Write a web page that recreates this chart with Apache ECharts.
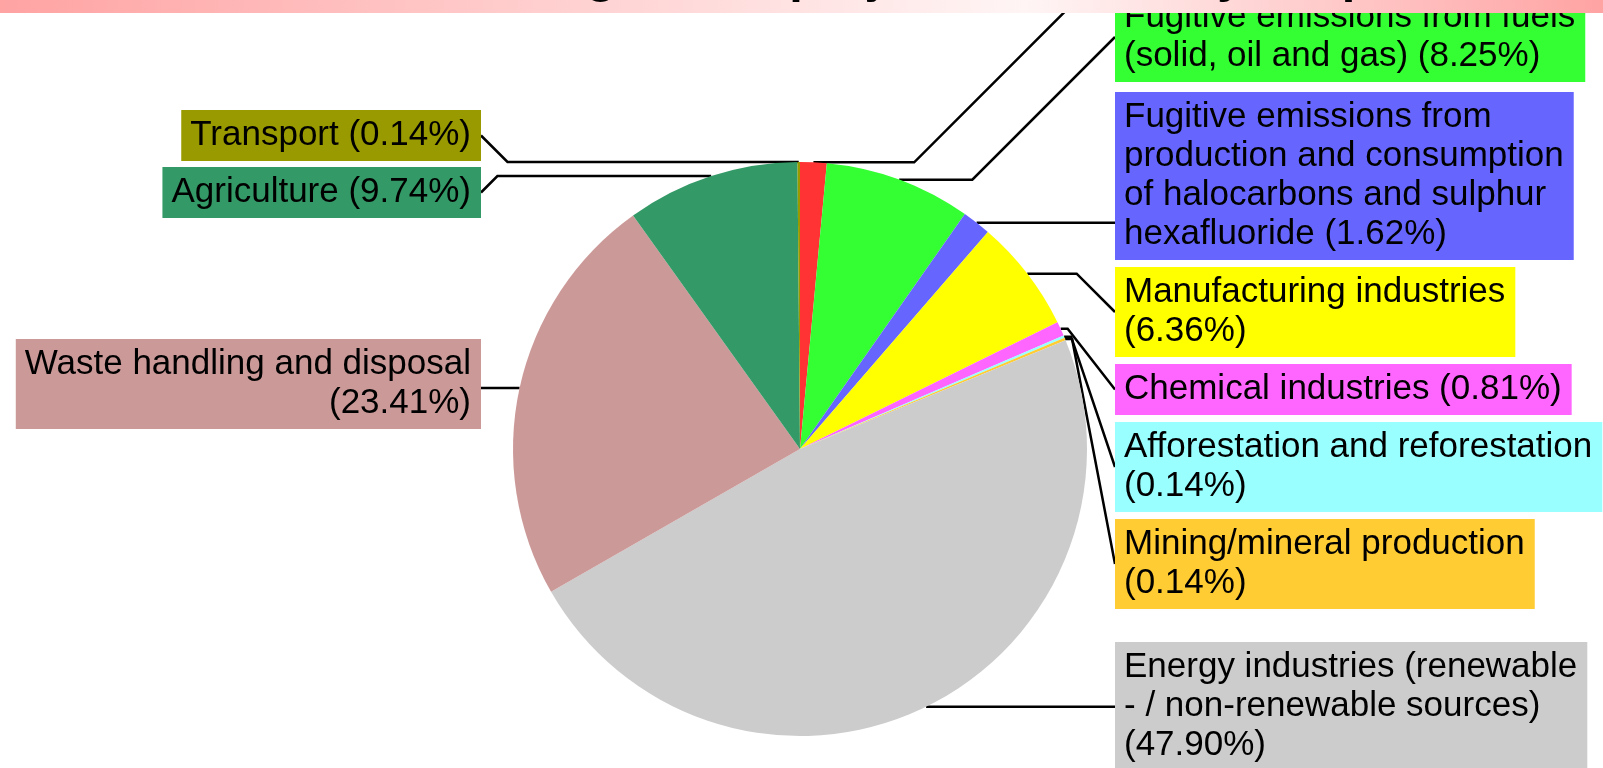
<!DOCTYPE html>
<html>
<head>
<meta charset="utf-8">
<title>Distribution of registered project activities by scope</title>
<script src="https://cdn.jsdelivr.net/npm/echarts@6/dist/echarts.min.js"></script>
<style>
html, body { margin: 0; padding: 0; background: #fff; }
#main { width: 1603px; height: 768px; }
</style>
</head>
<body>
<div id="main"></div>
<script>
// sectoral scopes, clockwise from 12 o'clock
var scopes = [
  'Energy demand',
  'Fugitive emissions from fuels\n(solid, oil and gas)',
  'Fugitive emissions from\nproduction and consumption\nof halocarbons and sulphur\nhexafluoride',
  'Manufacturing industries',
  'Chemical industries',
  'Afforestation and reforestation',
  'Mining/mineral production',
  'Energy industries (renewable\n- / non-renewable sources)',
  'Waste handling and disposal',
  'Agriculture',
  'Transport'
];
// share of registered projects, %
var shares = [1.49, 8.25, 1.62, 6.36, 0.81, 0.14, 0.14, 47.90, 23.41, 9.74, 0.14];
var colors = ['#ff3333', '#33ff33', '#6666ff', '#ffff00', '#ff66ff', '#99ffff',
              '#ffcc33', '#cccccc', '#cc9999', '#339966', '#999900'];

// label layout: percentage on its own line, top of each box, flat leader line
var pctBreak = [false, false, false, true, false, true, true, true, true, false, false];
var labelTop = [-64, -8, 92, 267, 364, 422, 519, 642, 339, 167, 110];
var lineFlat = [false, false, true, false, false, false, false, true, true, false, false];
var cx = 800, cy = 449;
var boxRight = 1115;  // left edge of right column
var boxLeft = 481;    // right edge of left column

var pieData = [];
for (var i = 0; i < scopes.length; i++) {
  pieData.push({
    name: scopes[i],
    value: shares[i],
    itemStyle: { color: colors[i] },
    label: { backgroundColor: colors[i] }
  });
}

var option = {
  backgroundColor: '#ffffff',
  animation: false,
  graphic: [{
    type: 'rect',
    z: 100,
    shape: { x: 0, y: 0, width: 1603, height: 13 },
    style: {
      fill: new echarts.graphic.LinearGradient(0, 0, 1, 0, [
        { offset: 0, color: '#ffa3a3' },
        { offset: 0.64, color: '#fff5f5' },
        { offset: 1, color: '#ffa3a3' }
      ])
    }
  }, {
    // title sits mostly above the visible area, only descenders show
    type: 'text',
    z: 101,
    x: 796,
    y: -21,
    style: {
      text: 'Distribution of registered project activities by scope',
      fill: '#000',
      font: 'bold 48.75px "Liberation Sans"',
      align: 'center',
      verticalAlign: 'middle'
    }
  }],
  series: [{
    type: 'pie',
    center: [cx, cy],
    radius: 287,
    startAngle: 90,
    clockwise: true,
    avoidLabelOverlap: false,
    emphasis: { disabled: true },
    itemStyle: { borderWidth: 0 },
    label: {
      show: true,
      position: 'outside',
      color: '#000',
      fontFamily: 'Liberation Sans',
      fontSize: 35,
      lineHeight: 39,
      padding: [6, 10, 6, 9],
      overflow: 'none',
      formatter: function (p) {
        return p.name + (pctBreak[p.dataIndex] ? '\n' : ' ') + '(' + p.value.toFixed(2) + '%)';
      }
    },
    labelLine: {
      show: true,
      length: 2,
      length2: 2,
      smooth: false,
      lineStyle: { color: '#000', width: 2.5 }
    },
    labelLayout: function (params) {
      var i = params.dataIndex;
      var a = params.labelLinePoints[0];
      var h = params.labelRect.height;
      var left = a[0] < cx;
      var bx = left ? boxLeft : boxRight;
      var ty = lineFlat[i] ? a[1] : labelTop[i] + h / 2;
      var dy = Math.abs(ty - a[1]);
      var x2 = left ? Math.min(a[0] - 7, bx + dy) : Math.max(a[0] + 7, bx - dy);
      return {
        x: bx,
        y: labelTop[i],
        align: left ? 'right' : 'left',
        verticalAlign: 'top',
        labelLinePoints: [[a[0], a[1]], [x2, a[1]], [bx, ty]]
      };
    },
    data: pieData
  }]
};

var chart = echarts.init(document.getElementById('main'), null, { renderer: 'canvas' });
chart.setOption(option);
</script>
</body>
</html>
